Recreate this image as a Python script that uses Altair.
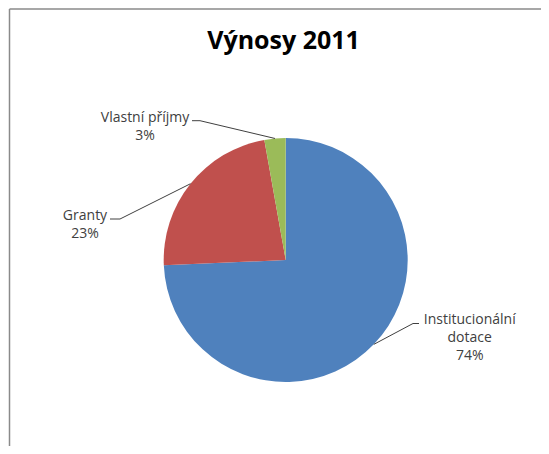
import math
import altair as alt
import pandas as pd

# ---- data ----
categories = ["Institucionální dotace", "Granty", "Vlastní příjmy"]
values = [74.3, 22.9, 2.8]
colors = ["#4F81BD", "#C0504D", "#9BBB59"]
title_text = "Výnosy 2011"

# ---- layout (pixels inside the chart) ----
W, H = 533, 438
CX, CY, R = 277.7, 252.0, 122.0
WRAP = {"Institucionální dotace": "Institucionální\ndotace"}
# text centre x, first baseline y, tail start x, elbow x, tail y
LABEL_LAYOUT = {
    "Institucionální dotace": (461.7, 316.0, 411.0, 405.0, 315.5),
    "Granty": (77.0, 212.0, 102.0, 112.0, 211.0),
    "Vlastní příjmy": (137.0, 113.5, 184.0, 192.0, 112.7),
}

total = sum(values)
pie = pd.DataFrame({
    "category": categories,
    "value": values,
    "order": list(range(len(categories))),
})

line_rows, text_rows = [], []
cum = 0.0
for cat, v in zip(categories, values):
    mid = (cum + v / 2) / total * 2 * math.pi
    cum += v
    ex = CX + R * math.sin(mid)
    ey = CY - R * math.cos(mid)
    tx, ty, x0, x1, ly = LABEL_LAYOUT[cat]
    line_rows += [
        {"category": cat, "idx": 0, "x": x0, "y": ly},
        {"category": cat, "idx": 1, "x": x1, "y": ly},
        {"category": cat, "idx": 2, "x": ex, "y": ey},
    ]
    pct = round(v / total * 100)
    text_rows.append({"category": cat, "x": tx, "y": ty,
                      "label": f"{WRAP.get(cat, cat)}\n{pct}%"})

lines = pd.DataFrame(line_rows)
texts = pd.DataFrame(text_rows)

xs = alt.Scale(domain=[0, W], nice=False, zero=False)
ys = alt.Scale(domain=[H, 0], nice=False, zero=False)

arc = alt.Chart(pie).mark_arc(outerRadius=R).encode(
    theta=alt.Theta("value:Q", stack=True),
    color=alt.Color("category:N", scale=alt.Scale(domain=categories, range=colors), legend=None),
    order=alt.Order("order:Q"),
    x=alt.value(CX),
    y=alt.value(CY),
)

leader = alt.Chart(lines).mark_line(color="#404040", strokeWidth=1).encode(
    x=alt.X("x:Q", scale=xs, axis=None),
    y=alt.Y("y:Q", scale=ys, axis=None),
    detail="category:N",
    order="idx:Q",
)

labels = alt.Chart(texts).mark_text(
    align="center", baseline="alphabetic", lineBreak="\n",
    font="Open Sans", fontSize=14, lineHeight=18, color="#404040",
).encode(
    x=alt.X("x:Q", scale=xs, axis=None),
    y=alt.Y("y:Q", scale=ys, axis=None),
    text="label:N",
)

one = pd.DataFrame({"k": [0]})
frame_left = alt.Chart(one).mark_rule(color="#8a8a8a", strokeWidth=1.5).encode(
    x=alt.value(1.5), y=alt.value(1), y2=alt.value(H)
)
frame_top = alt.Chart(one).mark_rule(color="#8a8a8a", strokeWidth=1.5).encode(
    x=alt.value(1.5), x2=alt.value(W), y=alt.value(1)
)

chart = alt.layer(frame_left, frame_top, arc, leader, labels).properties(
    width=W, height=H,
    padding=0,
    autosize=alt.AutoSizeParams(type="none"),
    title=alt.Title(title_text, font="Open Sans", fontSize=25, fontWeight="bold",
                    color="black", anchor="middle", dx=9, dy=50),
).configure_view(stroke=None)

chart.save("out.html", embed_options={"renderer": "svg", "actions": False})
